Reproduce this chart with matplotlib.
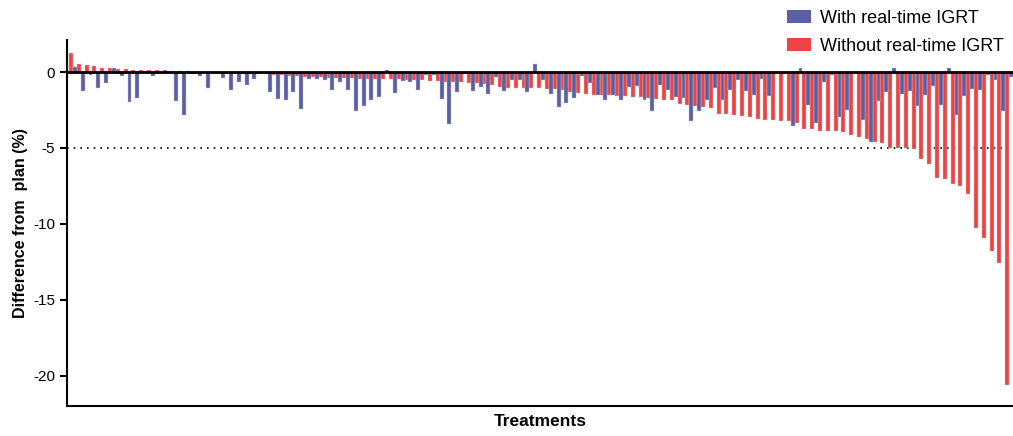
import matplotlib
matplotlib.use("Agg")
import matplotlib.pyplot as plt
import numpy as np
from matplotlib.patches import Patch

plt.rcParams['font.family'] = ['Liberation Sans', 'DejaVu Sans']

# values per treatment (% difference from plan), sorted by the "without" series
without_igrt = [
    1.23, 0.53, 0.46, 0.39, 0.24, 0.24, 0.22, 0.18, 0.16, 0.13,
    0.13, 0.11, 0.11, 0.07, 0.05, 0.04, 0.03, 0.02, -0.02, -0.05,
    -0.06, -0.08, -0.1, -0.1, -0.12, -0.15, -0.2, -0.22, -0.24, -0.28,
    -0.3, -0.33, -0.35, -0.4, -0.42, -0.42, -0.42, -0.44, -0.44, -0.44,
    -0.45, -0.46, -0.46, -0.5, -0.52, -0.55, -0.58, -0.62, -0.64, -0.64,
    -0.68, -0.7, -0.75, -0.79, -0.86, -0.96, -1.03, -1.07, -1.07, -1.07,
    -1.08, -1.14, -1.14, -1.18, -1.29, -1.4, -1.45, -1.48, -1.5, -1.53,
    -1.55, -1.6, -1.65, -1.67, -1.71, -1.75, -1.82, -1.86, -2.08, -2.15,
    -2.26, -2.32, -2.35, -2.74, -2.76, -2.82, -2.87, -2.94, -3.09, -3.14,
    -3.14, -3.2, -3.25, -3.36, -3.73, -3.73, -3.9, -3.9, -3.9, -3.93,
    -4.15, -4.25, -4.43, -4.58, -4.7, -5.0, -5.0, -5.0, -5.05, -5.7,
    -6.03, -7.0, -7.05, -7.4, -7.5, -8.0, -10.3, -10.9, -11.8, -12.6,
    -20.6,
]
with_igrt = [
    0.35, -1.23, -0.22, -1.08, -0.7, 0.25, -0.28, -1.94, -1.74, -0.02,
    -0.29, -0.02, 0.02, -1.9, -2.84, -0.15, -0.24, -1.07, -0.02, -0.38,
    -1.15, -0.64, -0.86, -0.43, -0.03, -1.28, -1.8, -1.84, -1.3, -2.46,
    -0.44, -0.44, -0.55, -1.16, -0.66, -1.16, -2.54, -2.21, -1.82, -1.64,
    0.15, -1.38, -0.61, -0.68, -1.2, -0.2, -0.2, -1.75, -3.45, -1.3,
    -0.1, -1.23, -1.0, -1.45, -0.3, -1.23, -0.53, -0.53, -1.29, 0.53,
    -0.53, -1.45, -2.28, -2.06, -1.73, -0.24, -0.75, -1.51, -1.84, -1.49,
    -1.82, -1.0, -0.9, -1.82, -2.54, -0.83, -1.16, -1.67, -1.71, -3.2,
    -2.54, -1.82, -1.05, -1.82, -1.16, -0.55, -1.23, -1.49, -0.44, -1.56,
    -0.05, -0.05, -3.55, 0.3, -2.15, -3.36, -0.66, -0.18, -2.96, -2.48,
    -0.05, -3.14, -4.6, -1.93, -1.3, 0.3, -1.45, -1.23, -2.26, -1.53,
    -0.94, -2.19, 0.3, -2.8, -1.6, -1.1, -1.16, -0.22, -0.55, -2.54,
    -0.35,
]
labels = ["With real-time IGRT", "Without real-time IGRT"]
yticks = [0, -5, -10, -15, -20]

red = '#ee4343'
blue = '#5b5fa8'

fig = plt.figure(figsize=(10.13, 4.36), dpi=100)
ax = fig.add_axes([0.0661, 0.0688, 0.934, 0.839])

x = np.arange(len(without_igrt))
w = 0.5
ax.bar(x - w / 2, without_igrt, width=w, color=red, edgecolor='#c8c8c8', linewidth=0.3, zorder=2)
ax.bar(x + w / 2, with_igrt, width=w, color=blue, edgecolor='#c8c8c8', linewidth=0.3, zorder=2)

ax.axhline(0, color='black', lw=2, zorder=3)
ax.axhline(-5, color='black', lw=1.2, ls=(0, (1, 3)), zorder=1)

ax.set_xlim(-0.77, len(x) - 0.5)
ax.set_ylim(-22, 2.1)
ax.set_yticks(yticks)
ax.set_yticklabels([str(t) for t in yticks], fontsize=11)
ax.set_xticks([])

for s in ['top', 'right']:
    ax.spines[s].set_visible(False)
ax.spines['left'].set_linewidth(1.5)
ax.spines['bottom'].set_linewidth(1.5)
ax.tick_params(axis='y', width=1.5, length=5)

ax.set_ylabel("Difference from  plan (%)", fontsize=11.5, fontweight='bold', labelpad=4)
ax.set_xlabel("Treatments", fontsize=12.5, fontweight='bold', labelpad=6)

handles = [Patch(facecolor=blue, edgecolor='none'), Patch(facecolor=red, edgecolor='none')]
fig.legend(handles, labels, loc='upper left', bbox_to_anchor=(0.777, 0.978), frameon=False,
           fontsize=13, handlelength=1.33, handleheight=0.7, labelspacing=0.62,
           handletextpad=0.5, borderpad=0, borderaxespad=0)

fig.savefig('out.png', dpi=100)
